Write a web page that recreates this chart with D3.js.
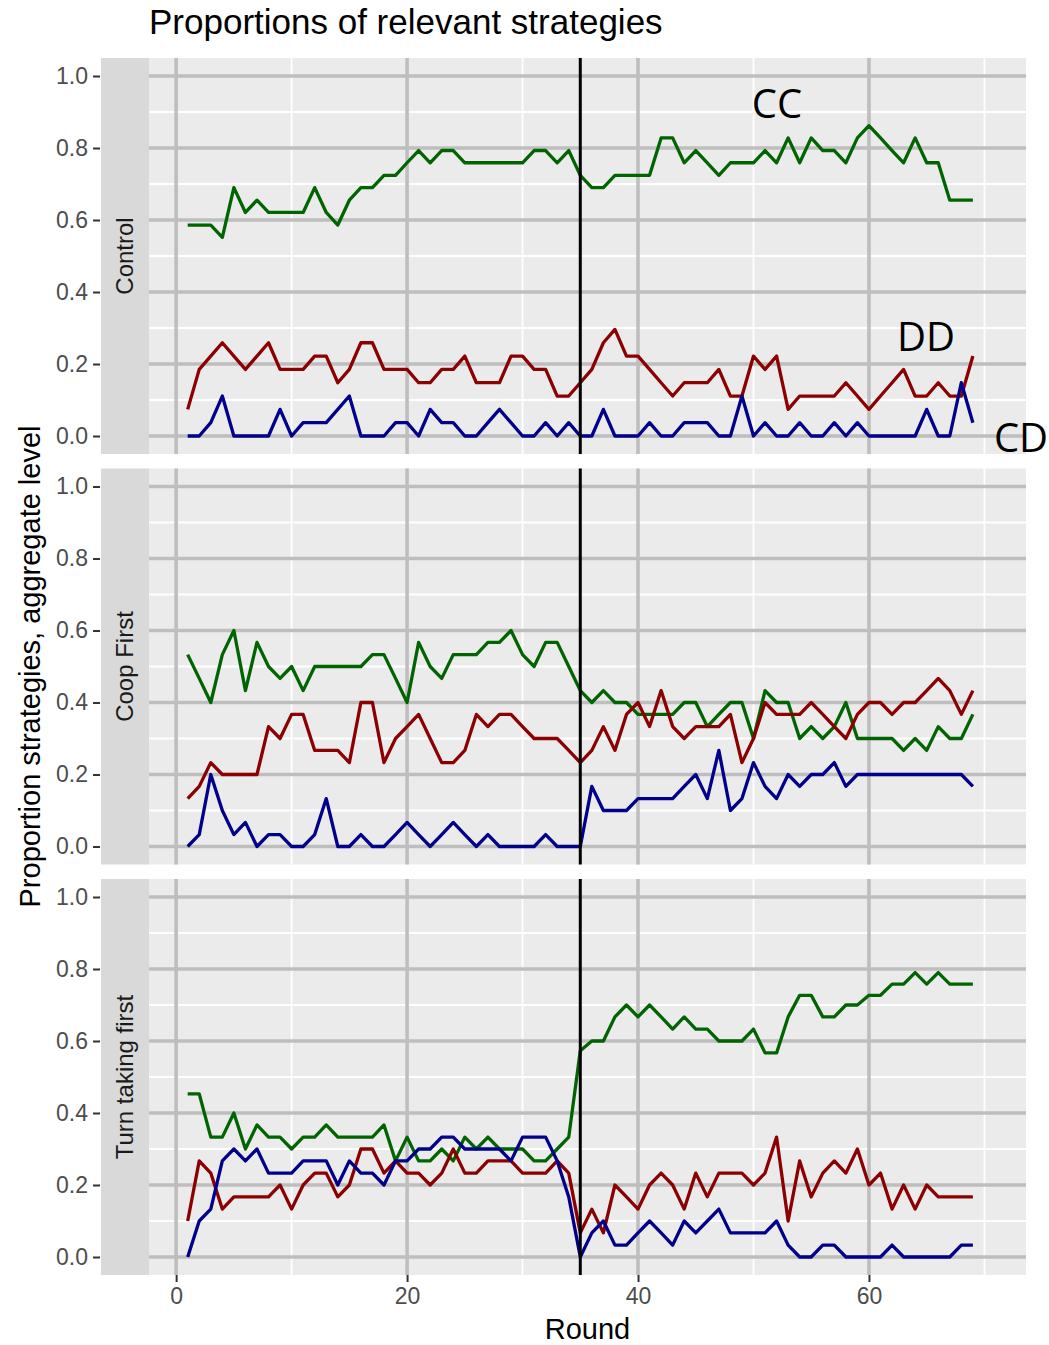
<!DOCTYPE html>
<html>
<head>
<meta charset="utf-8">
<script src="https://cdn.jsdelivr.net/npm/d3@7"></script>
<style>
  body { margin: 0; background: #ffffff; }
  svg { display: block; font-family: "Liberation Sans", Arial, sans-serif; }
</style>
</head>
<body>
<svg id="chart" width="1049" height="1345"></svg>
<script>
// Rounds played in every treatment
const rounds = d3.range(1, 70);
const facets = ["Control", "Coop First", "Turn taking first"];
const strategies = ["CC", "DD", "CD"];
const strategyColors = ["#006400", "#8b0000", "#00008b"];
const xTicks = [0, 20, 40, 60];
const xMinorTicks = [10, 30, 50, 70];
const yTicks = [0, 0.2, 0.4, 0.6, 0.8, 1.0];
const yMinorTicks = [0.1, 0.3, 0.5, 0.7, 0.9];
const switchRound = 35;

// Control
const controlCC = [0.586, 0.586, 0.586, 0.552, 0.690, 0.621, 0.655, 0.621, 0.621, 0.621, 0.621, 0.690, 0.621, 0.586, 0.655, 0.690, 0.690, 0.724,
  0.724, 0.759, 0.793, 0.759, 0.793, 0.793, 0.759, 0.759, 0.759, 0.759, 0.759, 0.759, 0.793, 0.793, 0.759, 0.793, 0.724, 0.690,
  0.690, 0.724, 0.724, 0.724, 0.724, 0.828, 0.828, 0.759, 0.793, 0.759, 0.724, 0.759, 0.759, 0.759, 0.793, 0.759, 0.828,
  0.759, 0.828, 0.793, 0.793, 0.759, 0.828, 0.862, 0.828, 0.793, 0.759, 0.828, 0.759, 0.759, 0.655, 0.655, 0.655];
const controlDD = [0.074, 0.185, 0.222, 0.259, 0.222, 0.185, 0.222, 0.259, 0.185, 0.185, 0.185, 0.222, 0.222, 0.148, 0.185, 0.259, 0.259, 0.185,
  0.185, 0.185, 0.148, 0.148, 0.185, 0.185, 0.222, 0.148, 0.148, 0.148, 0.222, 0.222, 0.185, 0.185, 0.111, 0.111, 0.148, 0.185,
  0.259, 0.296, 0.222, 0.222, 0.185, 0.148, 0.111, 0.148, 0.148, 0.148, 0.185, 0.111, 0.111, 0.222, 0.185, 0.222, 0.074,
  0.111, 0.111, 0.111, 0.111, 0.148, 0.111, 0.074, 0.111, 0.148, 0.185, 0.111, 0.111, 0.148, 0.111, 0.111, 0.222];
const controlCD = [0, 0, 0.037, 0.111, 0, 0, 0, 0, 0.074, 0, 0.037, 0.037, 0.037, 0.074, 0.111, 0, 0, 0,
  0.037, 0.037, 0, 0.074, 0.037, 0.037, 0, 0, 0.037, 0.074, 0.037, 0, 0, 0.037, 0, 0.037, 0, 0,
  0.074, 0, 0, 0, 0.037, 0, 0, 0.037, 0.037, 0.037, 0, 0, 0.111, 0, 0.037, 0, 0,
  0.037, 0, 0, 0.037, 0, 0.037, 0, 0, 0, 0, 0, 0.074, 0, 0, 0.148, 0.037];

// Coop First
const coopCC = [0.533, 0.467, 0.4, 0.533, 0.6, 0.433, 0.567, 0.5, 0.467, 0.5, 0.433, 0.5, 0.5, 0.5, 0.5, 0.5, 0.533, 0.533,
  0.467, 0.4, 0.567, 0.5, 0.467, 0.533, 0.533, 0.533, 0.567, 0.567, 0.6, 0.533, 0.5, 0.567, 0.567, 0.5, 0.433, 0.4,
  0.433, 0.4, 0.4, 0.367, 0.367, 0.367, 0.367, 0.4, 0.4, 0.333, 0.367, 0.4, 0.4, 0.3, 0.433, 0.4, 0.4,
  0.3, 0.333, 0.3, 0.333, 0.4, 0.3, 0.3, 0.3, 0.3, 0.267, 0.3, 0.267, 0.333, 0.3, 0.3, 0.367];
const coopDD = [0.133, 0.167, 0.233, 0.2, 0.2, 0.2, 0.2, 0.333, 0.3, 0.367, 0.367, 0.267, 0.267, 0.267, 0.233, 0.4, 0.4, 0.233,
  0.3, 0.333, 0.367, 0.3, 0.233, 0.233, 0.267, 0.367, 0.333, 0.367, 0.367, 0.333, 0.3, 0.3, 0.3, 0.267, 0.233, 0.267,
  0.333, 0.267, 0.367, 0.4, 0.333, 0.433, 0.333, 0.3, 0.333, 0.333, 0.333, 0.367, 0.233, 0.3, 0.4, 0.367, 0.367,
  0.367, 0.4, 0.367, 0.333, 0.3, 0.367, 0.4, 0.4, 0.367, 0.4, 0.4, 0.433, 0.467, 0.433, 0.367, 0.433];
const coopCD = [0, 0.033, 0.2, 0.1, 0.033, 0.067, 0, 0.033, 0.033, 0, 0, 0.033, 0.133, 0, 0, 0.033, 0, 0,
  0.033, 0.067, 0.033, 0, 0.033, 0.067, 0.033, 0, 0.033, 0, 0, 0, 0, 0.033, 0, 0, 0, 0.167,
  0.1, 0.1, 0.1, 0.133, 0.133, 0.133, 0.133, 0.167, 0.2, 0.133, 0.267, 0.1, 0.133, 0.233, 0.167, 0.133, 0.2,
  0.167, 0.2, 0.2, 0.233, 0.167, 0.2, 0.2, 0.2, 0.2, 0.2, 0.2, 0.2, 0.2, 0.2, 0.2, 0.167];

// Turn taking first
const turnCC = [0.453, 0.453, 0.333, 0.333, 0.4, 0.3, 0.367, 0.333, 0.333, 0.3, 0.333, 0.333, 0.367, 0.333, 0.333, 0.333, 0.333, 0.367,
  0.267, 0.333, 0.267, 0.267, 0.3, 0.267, 0.333, 0.3, 0.333, 0.3, 0.3, 0.3, 0.267, 0.267, 0.3, 0.333, 0.573, 0.6,
  0.6, 0.667, 0.7, 0.667, 0.7, 0.667, 0.633, 0.667, 0.633, 0.633, 0.6, 0.6, 0.6, 0.633, 0.567, 0.567, 0.667,
  0.727, 0.727, 0.667, 0.667, 0.7, 0.7, 0.727, 0.727, 0.758, 0.758, 0.79, 0.758, 0.79, 0.758, 0.758, 0.758];
const turnDD = [0.1, 0.267, 0.233, 0.133, 0.167, 0.167, 0.167, 0.167, 0.2, 0.133, 0.2, 0.233, 0.233, 0.167, 0.2, 0.3, 0.3, 0.233,
  0.267, 0.233, 0.233, 0.2, 0.233, 0.3, 0.233, 0.233, 0.267, 0.267, 0.267, 0.233, 0.233, 0.233, 0.267, 0.233, 0.067, 0.133,
  0.067, 0.2, 0.167, 0.133, 0.2, 0.233, 0.2, 0.133, 0.233, 0.167, 0.233, 0.233, 0.233, 0.2, 0.233, 0.333, 0.1,
  0.267, 0.167, 0.233, 0.267, 0.233, 0.3, 0.2, 0.233, 0.133, 0.2, 0.133, 0.2, 0.167, 0.167, 0.167, 0.167];
const turnCD = [0, 0.1, 0.133, 0.267, 0.3, 0.267, 0.3, 0.233, 0.233, 0.233, 0.267, 0.267, 0.267, 0.2, 0.267, 0.233, 0.233, 0.2,
  0.267, 0.267, 0.3, 0.3, 0.333, 0.333, 0.3, 0.3, 0.3, 0.3, 0.267, 0.333, 0.333, 0.333, 0.267, 0.167, 0, 0.067,
  0.1, 0.033, 0.033, 0.067, 0.1, 0.067, 0.033, 0.1, 0.067, 0.1, 0.133, 0.067, 0.067, 0.067, 0.067, 0.1, 0.033,
  0, 0, 0.033, 0.033, 0, 0, 0, 0, 0.033, 0, 0, 0, 0, 0, 0.033, 0.033];

const facetSeries = [
  [controlCC, controlDD, controlCD],
  [coopCC, coopDD, coopCD],
  [turnCC, turnDD, turnCD]
];

// Layout
const panelLeft = 149, panelRight = 1026;
const panelTop = 58, panelHeight = 396, panelStep = 410.5;
const stripWidth = 48;

const svg = d3.select("#chart");

const x = d3.scaleLinear().domain([-2.35, 73.6]).range([panelLeft, panelRight]);

const line = (yScale) => d3.line()
  .x((d, i) => x(rounds[i]))
  .y(d => yScale(d));

facets.forEach((name, f) => {
  const top = panelTop + f * panelStep;
  const y = d3.scaleLinear().domain([-0.05, 1.05]).range([top + panelHeight, top]);
  const g = svg.append("g");

  // panel background
  g.append("rect")
    .attr("x", panelLeft).attr("y", top)
    .attr("width", panelRight - panelLeft).attr("height", panelHeight)
    .attr("fill", "#ebebeb");

  // minor grid
  g.selectAll(".ym").data(yMinorTicks).join("line")
    .attr("x1", panelLeft).attr("x2", panelRight)
    .attr("y1", d => y(d)).attr("y2", d => y(d))
    .attr("stroke", "#ffffff").attr("stroke-width", 1.8);
  g.selectAll(".xm").data(xMinorTicks).join("line")
    .attr("x1", d => x(d)).attr("x2", d => x(d))
    .attr("y1", top).attr("y2", top + panelHeight)
    .attr("stroke", "#ffffff").attr("stroke-width", 1.8);

  // major grid
  g.selectAll(".yM").data(yTicks).join("line")
    .attr("x1", panelLeft).attr("x2", panelRight)
    .attr("y1", d => y(d)).attr("y2", d => y(d))
    .attr("stroke", "#bebebe").attr("stroke-width", 3.6);
  g.selectAll(".xM").data(xTicks).join("line")
    .attr("x1", d => x(d)).attr("x2", d => x(d))
    .attr("y1", top).attr("y2", top + panelHeight)
    .attr("stroke", "#bebebe").attr("stroke-width", 3.6);

  // strategy lines
  facetSeries[f].forEach((vals, s) => {
    g.append("path")
      .datum(vals)
      .attr("d", line(y))
      .attr("fill", "none")
      .attr("stroke", strategyColors[s])
      .attr("stroke-width", 3.3)
      .attr("stroke-linejoin", "round");
  });

  // switch marker
  g.append("line")
    .attr("x1", x(switchRound)).attr("x2", x(switchRound))
    .attr("y1", top).attr("y2", top + panelHeight)
    .attr("stroke", "#000000").attr("stroke-width", 3);

  // facet strip
  g.append("rect")
    .attr("x", panelLeft - stripWidth).attr("y", top)
    .attr("width", stripWidth).attr("height", panelHeight)
    .attr("fill", "#d9d9d9");
  g.append("text")
    .attr("transform", `translate(${panelLeft - stripWidth / 2 + 8},${top + panelHeight / 2}) rotate(-90)`)
    .attr("text-anchor", "middle")
    .attr("font-size", 24)
    .attr("fill", "#1a1a1a")
    .text(name);

  // y axis
  const ya = g.append("g")
    .attr("transform", `translate(${panelLeft - stripWidth - 1},0)`)
    .call(d3.axisLeft(y).tickValues(yTicks).tickFormat(d3.format(".1f")).tickSize(7).tickPadding(5));
  ya.select(".domain").remove();
  ya.selectAll(".tick line").attr("stroke", "#333333").attr("stroke-width", 2);
  ya.selectAll(".tick text").attr("font-size", 23).attr("fill", "#4d4d4d")
    .attr("font-family", "'Liberation Sans', Arial, sans-serif");

  // x axis on bottom panel only
  if (f === facets.length - 1) {
    const xa = g.append("g")
      .attr("transform", `translate(0,${top + panelHeight})`)
      .call(d3.axisBottom(x).tickValues(xTicks).tickSize(7).tickPadding(6));
    xa.select(".domain").remove();
    xa.selectAll(".tick line").attr("stroke", "#333333").attr("stroke-width", 2);
    xa.selectAll(".tick text").attr("font-size", 23).attr("fill", "#4d4d4d")
      .attr("font-family", "'Liberation Sans', Arial, sans-serif");
  }
});

// Title and axis titles
svg.append("text")
  .attr("x", panelLeft).attr("y", 34)
  .attr("font-size", 35)
  .attr("fill", "#000000")
  .text("Proportions of relevant strategies");

svg.append("text")
  .attr("x", (panelLeft + panelRight) / 2).attr("y", 1339)
  .attr("text-anchor", "middle")
  .attr("font-size", 29)
  .attr("fill", "#000000")
  .text("Round");

svg.append("text")
  .attr("transform", `translate(40,${panelTop + (2 * panelStep + panelHeight) / 2}) rotate(-90)`)
  .attr("text-anchor", "middle")
  .attr("font-size", 29)
  .attr("fill", "#000000")
  .text("Proportion strategies, aggregate level");

// Strategy labels
const labelPos = [[777, 118], [926, 351], [1021, 452]];
strategies.forEach((s, i) => {
  svg.append("text")
    .attr("x", labelPos[i][0]).attr("y", labelPos[i][1])
    .attr("text-anchor", "middle")
    .attr("font-family", "'Open Sans', 'Noto Sans', sans-serif")
    .attr("font-size", 40)
    .attr("fill", "#000000")
    .text(s);
});
</script>
</body>
</html>
